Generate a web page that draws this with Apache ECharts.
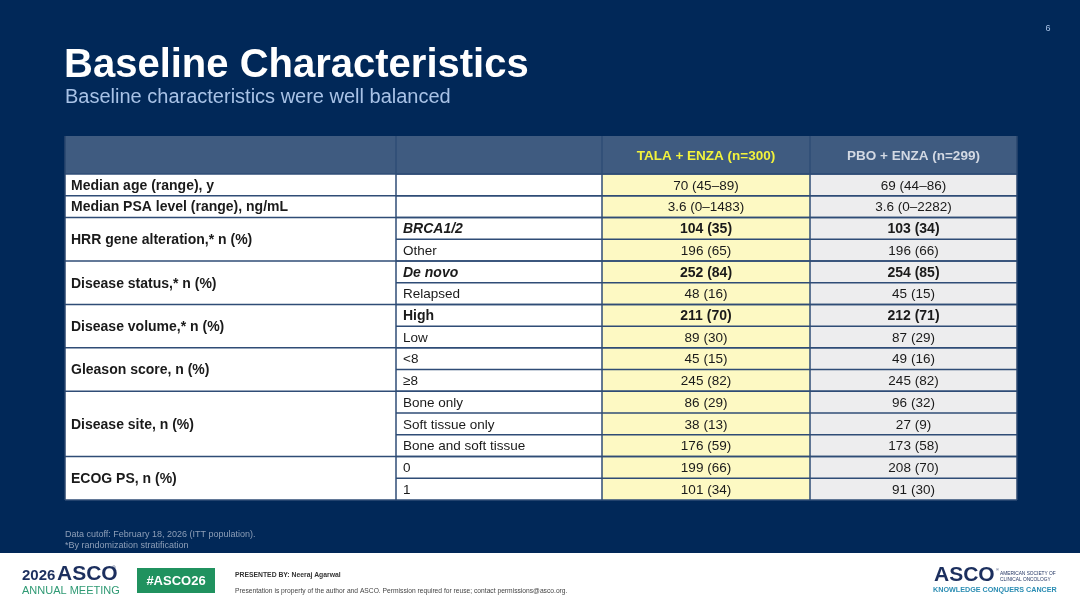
<!DOCTYPE html>
<html>
<head>
<meta charset="utf-8">
<script src="https://cdn.jsdelivr.net/npm/echarts@6/dist/echarts.min.js"></script>
<style>
  html, body { margin: 0; padding: 0; background: #012858; }
  #main { width: 1080px; height: 608px; }
</style>
</head>
<body>
<div id="main"></div>
<script>
// table content
const headerLabels = ['', '', 'TALA + ENZA (n=300)', 'PBO + ENZA (n=299)'];
const groupLabels = [
    'Median age (range), y',
    'Median PSA level (range), ng/mL',
    'HRR gene alteration,* n (%)',
    'Disease status,* n (%)',
    'Disease volume,* n (%)',
    'Gleason score, n (%)',
    'Disease site, n (%)',
    'ECOG PS, n (%)'
];
const groupSpans = [1, 1, 2, 2, 2, 2, 3, 2];
const subLabels = ['', '', 'BRCA1/2', 'Other', 'De novo', 'Relapsed', 'High', 'Low',
    '<8', '≥8', 'Bone only', 'Soft tissue only', 'Bone and soft tissue', '0', '1'];
const talaValues = ['70 (45–89)', '3.6 (0–1483)', '104 (35)', '196 (65)', '252 (84)', '48 (16)',
    '211 (70)', '89 (30)', '45 (15)', '245 (82)', '86 (29)', '38 (13)', '176 (59)', '199 (66)', '101 (34)'];
const pboValues = ['69 (44–86)', '3.6 (0–2282)', '103 (34)', '196 (66)', '254 (85)', '45 (15)',
    '212 (71)', '87 (29)', '49 (16)', '245 (82)', '96 (32)', '27 (9)', '173 (58)', '208 (70)', '91 (30)'];
const boldRows = [2, 4, 6];
const italicRows = [2, 4];

const FONT = '"Liberation Sans", Arial, sans-serif';
const NAVY = '#012858';
const LINE = '#2f4c76';
const REG = '13.5px ' + FONT, BOLD = 'bold 14px ' + FONT;

const colX = [65, 396, 602, 810, 1017];
const headTop = 136, headBottom = 174, tableBottom = 500;
const rowH = (tableBottom - headBottom) / subLabels.length;

const chart = echarts.init(document.getElementById('main'));
const els = [];

// slide background
els.push({ type: 'rect', shape: { x: 0, y: 0, width: 1080, height: 553 }, style: { fill: NAVY }, silent: true });
els.push({ type: 'rect', shape: { x: 0, y: 553, width: 1080, height: 55 }, style: { fill: '#ffffff' }, silent: true });

// title
els.push({ type: 'text', x: 64, y: 46, style: { text: 'Baseline Characteristics', fill: '#ffffff', font: 'bold 40px ' + FONT } });
els.push({ type: 'text', x: 65, y: 87, style: { text: 'Baseline characteristics were well balanced', fill: '#a8c2e6', font: '20px ' + FONT } });
els.push({ type: 'text', x: 1048, y: 24, style: { text: '6', fill: '#a8c2e6', font: '9px ' + FONT, align: 'center' } });

// header row
els.push({ type: 'rect', shape: { x: colX[0], y: headTop, width: colX[4] - colX[0], height: headBottom - headTop }, style: { fill: '#3f5b80' } });
const headColors = ['#fff', '#fff', '#f2f23c', '#d3d9e3'];
headerLabels.forEach((t, c) => {
    if (!t) return;
    els.push({ type: 'text', x: (colX[c] + colX[c + 1]) / 2, y: (headTop + headBottom) / 2 + 1,
        style: { text: t, fill: headColors[c], font: 'bold 13.5px ' + FONT, align: 'center', verticalAlign: 'middle' } });
});

// body cells
subLabels.forEach((s, i) => {
    const y = headBottom + i * rowH;
    const bold = boldRows.indexOf(i) >= 0, ital = italicRows.indexOf(i) >= 0;
    const f = (ital ? 'italic ' : '') + (bold ? BOLD : REG);
    const cy = y + rowH / 2 + 1;
    els.push({ type: 'rect', shape: { x: colX[1], y: y, width: colX[2] - colX[1], height: rowH }, style: { fill: '#ffffff' } });
    els.push({ type: 'rect', shape: { x: colX[2], y: y, width: colX[3] - colX[2], height: rowH }, style: { fill: '#fdf9c3' } });
    els.push({ type: 'rect', shape: { x: colX[3], y: y, width: colX[4] - colX[3], height: rowH }, style: { fill: '#ededee' } });
    if (s) els.push({ type: 'text', x: colX[1] + 7, y: cy, style: { text: s, fill: '#1a1a1a', font: f, verticalAlign: 'middle' } });
    els.push({ type: 'text', x: (colX[2] + colX[3]) / 2, y: cy, style: { text: talaValues[i], fill: '#1a1a1a', font: bold ? BOLD : REG, align: 'center', verticalAlign: 'middle' } });
    els.push({ type: 'text', x: (colX[3] + colX[4]) / 2, y: cy, style: { text: pboValues[i], fill: '#1a1a1a', font: bold ? BOLD : REG, align: 'center', verticalAlign: 'middle' } });
    // row line across columns 1..3
    els.push({ type: 'line', shape: { x1: colX[1], y1: y, x2: colX[4], y2: y }, style: { stroke: LINE, lineWidth: 1.5 } });
});

// group cells in first column
let r = 0;
groupLabels.forEach((g, k) => {
    const y = headBottom + r * rowH, h = groupSpans[k] * rowH;
    els.push({ type: 'rect', shape: { x: colX[0], y: y, width: colX[1] - colX[0], height: h }, style: { fill: '#ffffff' } });
    els.push({ type: 'text', x: colX[0] + 6, y: y + h / 2 + 1, style: { text: g, fill: '#1a1a1a', font: BOLD, verticalAlign: 'middle' } });
    els.push({ type: 'line', shape: { x1: colX[0], y1: y, x2: colX[4], y2: y }, style: { stroke: LINE, lineWidth: 1.5 } });
    r += groupSpans[k];
});

// vertical lines and outer border
colX.forEach((x, c) => {
    els.push({ type: 'line', shape: { x1: x, y1: headTop, x2: x, y2: tableBottom }, style: { stroke: c === 0 || c === 4 ? '#2a466e' : LINE, lineWidth: 1.5 } });
});
els.push({ type: 'line', shape: { x1: colX[0], y1: tableBottom, x2: colX[4], y2: tableBottom }, style: { stroke: LINE, lineWidth: 1.5 } });

// footnotes
els.push({ type: 'text', x: 65, y: 530, style: { text: 'Data cutoff: February 18, 2026 (ITT population).', fill: '#8e9fb8', font: '9px ' + FONT } });
els.push({ type: 'text', x: 65, y: 541, style: { text: '*By randomization stratification', fill: '#8e9fb8', font: '9px ' + FONT } });

// footer: meeting logo
els.push({ type: 'text', x: 22, y: 568, style: { text: '2026', fill: '#1c2f5e', font: 'bold 15px ' + FONT } });
els.push({ type: 'text', x: 57, y: 564, style: { text: 'ASCO', fill: '#1c2f5e', font: 'bold 21px ' + FONT } });
els.push({ type: 'text', x: 112, y: 566, style: { text: '®', fill: '#1c2f5e', font: '5px ' + FONT } });
els.push({ type: 'text', x: 22, y: 585, style: { text: 'ANNUAL MEETING', fill: '#2f9a74', font: '11px ' + FONT } });
els.push({ type: 'rect', shape: { x: 137, y: 568, width: 78, height: 25 }, style: { fill: '#20925f' } });
els.push({ type: 'text', x: 176, y: 581, style: { text: '#ASCO26', fill: '#ffffff', font: 'bold 13px ' + FONT, align: 'center', verticalAlign: 'middle' } });
els.push({ type: 'text', x: 235, y: 572, style: { text: 'PRESENTED BY: Neeraj Agarwal', fill: '#333333', font: 'bold 6.8px ' + FONT } });
els.push({ type: 'text', x: 235, y: 588, style: { text: 'Presentation is property of the author and ASCO. Permission required for reuse; contact permissions@asco.org.', fill: '#444444', font: '6.7px ' + FONT } });

// footer: society logo
els.push({ type: 'text', x: 934, y: 565, style: { text: 'ASCO', fill: '#1c2f5e', font: 'bold 21px ' + FONT } });
els.push({ type: 'text', x: 996, y: 568, style: { text: '®', fill: '#1c2f5e', font: '4px ' + FONT } });
els.push({ type: 'text', x: 1000, y: 571, style: { text: 'AMERICAN SOCIETY OF', fill: '#1c2f5e', font: '4.8px ' + FONT } });
els.push({ type: 'text', x: 1000, y: 577, style: { text: 'CLINICAL ONCOLOGY', fill: '#1c2f5e', font: '4.8px ' + FONT } });
els.push({ type: 'text', x: 933, y: 587, style: { text: 'KNOWLEDGE CONQUERS CANCER', fill: '#2b8db3', font: 'bold 7.2px ' + FONT } });

chart.setOption({
    animation: false,
    backgroundColor: NAVY,
    graphic: { elements: els }
});
</script>
</body>
</html>
